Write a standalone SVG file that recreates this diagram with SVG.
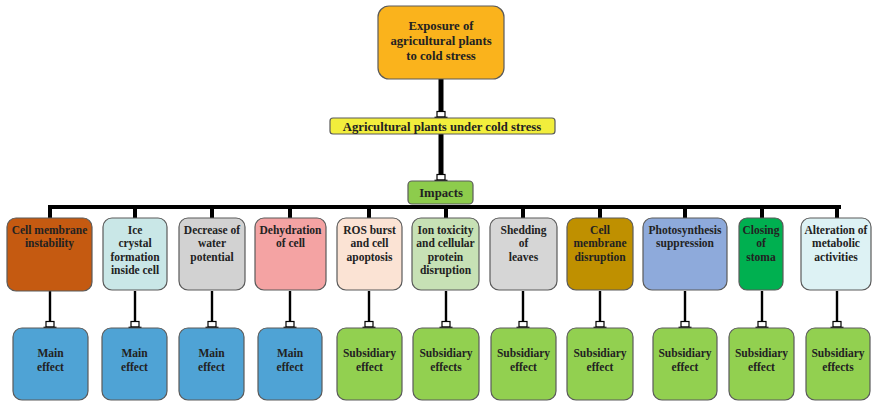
<svg xmlns="http://www.w3.org/2000/svg" width="873" height="403" viewBox="0 0 873 403">
  <style>
    .box { stroke: #5a5a5a; stroke-width: 1.2; }
    .t { font-family: "Liberation Serif", "Times New Roman", serif; font-weight: bold; font-size: 11.5px; fill: #222; text-anchor: middle; }
    .tl { font-size: 12.7px; }
    .thick { stroke: #000; stroke-width: 5; fill: none; }
    .bus { stroke: #000; stroke-width: 4; fill: none; }
    .thin { stroke: #000; stroke-width: 2.4; fill: none; }
    .main { fill: #4fa3d5; }
    .sub { fill: #92d050; }
  </style>
  <defs>
    <marker id="tee" markerUnits="userSpaceOnUse" markerWidth="16" markerHeight="10" viewBox="-8 -8 16 10" refX="0" refY="0" orient="0" overflow="visible">
      <rect x="-4" y="-6.5" width="8" height="5.5" fill="#fff" stroke="#000" stroke-width="1.2"/>
      <line x1="-6.5" y1="-0.6" x2="6.5" y2="-0.6" stroke="#000" stroke-width="1.4"/>
    </marker>
  </defs>

  <rect width="873" height="403" fill="#fff"/>

  <!-- connectors -->
  <g id="connectors">
    <line class="thick" x1="441" y1="79" x2="441" y2="118" marker-end="url(#tee)"/>
    <line class="thick" x1="441" y1="134" x2="441" y2="181" marker-end="url(#tee)"/>
    <line class="bus" x1="48" y1="207" x2="841" y2="207"/>
    <g class="bus">
      <line x1="50" y1="207" x2="50" y2="219"/>
      <line x1="135" y1="207" x2="135" y2="219"/>
      <line x1="212" y1="207" x2="212" y2="219"/>
      <line x1="290" y1="207" x2="290" y2="219"/>
      <line x1="369" y1="207" x2="369" y2="219"/>
      <line x1="446" y1="207" x2="446" y2="219"/>
      <line x1="523" y1="207" x2="523" y2="219"/>
      <line x1="600" y1="207" x2="600" y2="219"/>
      <line x1="685" y1="207" x2="685" y2="219"/>
      <line x1="762" y1="207" x2="762" y2="219"/>
      <line x1="837" y1="207" x2="837" y2="219"/>
    </g>
    <g class="thin">
      <line x1="50" y1="291" x2="50" y2="328" marker-end="url(#tee)"/>
      <line x1="135" y1="291" x2="135" y2="328" marker-end="url(#tee)"/>
      <line x1="212" y1="291" x2="212" y2="328" marker-end="url(#tee)"/>
      <line x1="290" y1="291" x2="290" y2="328" marker-end="url(#tee)"/>
      <line x1="369" y1="291" x2="369" y2="328" marker-end="url(#tee)"/>
      <line x1="446" y1="291" x2="446" y2="328" marker-end="url(#tee)"/>
      <line x1="523" y1="291" x2="523" y2="328" marker-end="url(#tee)"/>
      <line x1="600" y1="291" x2="600" y2="328" marker-end="url(#tee)"/>
      <line x1="685" y1="291" x2="685" y2="328" marker-end="url(#tee)"/>
      <line x1="762" y1="291" x2="762" y2="328" marker-end="url(#tee)"/>
      <line x1="837" y1="291" x2="837" y2="328" marker-end="url(#tee)"/>
    </g>
  </g>

  <!-- top level -->
  <g id="exposure">
    <rect class="box" x="378" y="6" width="126" height="73" rx="11" fill="#fab31c"/>
    <text class="t tl" x="441" y="30">Exposure of</text>
    <text class="t tl" x="441" y="45">agricultural plants</text>
    <text class="t tl" x="441" y="60">to cold stress</text>
  </g>
  <g id="under-stress">
    <rect class="box" x="330" y="118" width="225" height="16" rx="3" fill="#f2ee3c"/>
    <text class="t tl" x="442" y="130.5">Agricultural plants under cold stress</text>
  </g>
  <g id="impacts">
    <rect class="box" x="408" y="181" width="65" height="23" rx="4" fill="#8dcc4c"/>
    <text class="t tl" x="441" y="197">Impacts</text>
  </g>

  <!-- impact categories -->
  <g id="n1">
    <rect class="box" x="7" y="218" width="85" height="73" rx="9" fill="#c55a11"/>
    <text class="t" x="49.5" y="234">Cell membrane</text>
    <text class="t" x="49.5" y="247">instability</text>
  </g>
  <g id="n2">
    <rect class="box" x="103" y="218" width="64" height="72" rx="9" fill="#c9e7e7"/>
    <text class="t" x="135" y="234">Ice</text>
    <text class="t" x="135" y="247">crystal</text>
    <text class="t" x="135" y="260.5">formation</text>
    <text class="t" x="135" y="274">inside cell</text>
  </g>
  <g id="n3">
    <rect class="box" x="179" y="218" width="66" height="72" rx="9" fill="#d2d2d2"/>
    <text class="t" x="212" y="234">Decrease of</text>
    <text class="t" x="212" y="247">water</text>
    <text class="t" x="212" y="260.5">potential</text>
  </g>
  <g id="n4">
    <rect class="box" x="255" y="218" width="71" height="72" rx="9" fill="#f4a3a3"/>
    <text class="t" x="290.5" y="234">Dehydration</text>
    <text class="t" x="290.5" y="247">of cell</text>
  </g>
  <g id="n5">
    <rect class="box" x="337" y="218" width="65" height="72" rx="9" fill="#fbe3d4"/>
    <text class="t" x="369.5" y="234">ROS burst</text>
    <text class="t" x="369.5" y="247">and cell</text>
    <text class="t" x="369.5" y="260.5">apoptosis</text>
  </g>
  <g id="n6">
    <rect class="box" x="412" y="218" width="67" height="72" rx="9" fill="#c7e1b5"/>
    <text class="t" x="445.5" y="234">Ion toxicity</text>
    <text class="t" x="445.5" y="247">and cellular</text>
    <text class="t" x="445.5" y="260.5">protein</text>
    <text class="t" x="445.5" y="274">disruption</text>
  </g>
  <g id="n7">
    <rect class="box" x="490" y="218" width="67" height="72" rx="9" fill="#d6d6d6"/>
    <text class="t" x="523.5" y="234">Shedding</text>
    <text class="t" x="523.5" y="247">of</text>
    <text class="t" x="523.5" y="260.5">leaves</text>
  </g>
  <g id="n8">
    <rect class="box" x="567" y="218" width="66" height="72" rx="9" fill="#bf9000"/>
    <text class="t" x="600" y="234">Cell</text>
    <text class="t" x="600" y="247">membrane</text>
    <text class="t" x="600" y="260.5">disruption</text>
  </g>
  <g id="n9">
    <rect class="box" x="643" y="218" width="84" height="72" rx="9" fill="#8eaadb"/>
    <text class="t" x="685" y="234">Photosynthesis</text>
    <text class="t" x="685" y="247">suppression</text>
  </g>
  <g id="n10">
    <rect class="box" x="739" y="218" width="44" height="72" rx="8" fill="#00b050"/>
    <text class="t" x="761" y="234">Closing</text>
    <text class="t" x="761" y="247">of</text>
    <text class="t" x="761" y="260.5">stoma</text>
  </g>
  <g id="n11">
    <rect class="box" x="801" y="218" width="70" height="72" rx="9" fill="#ddf2f4"/>
    <text class="t" x="836" y="234">Alteration of</text>
    <text class="t" x="836" y="247">metabolic</text>
    <text class="t" x="836" y="260.5">activities</text>
  </g>

  <!-- effect classes -->
  <g id="e1">
    <rect class="box main" x="13" y="328" width="75" height="72" rx="9"/>
    <text class="t" x="50.5" y="357">Main</text>
    <text class="t" x="50.5" y="371">effect</text>
  </g>
  <g id="e2">
    <rect class="box main" x="102" y="328" width="65" height="72" rx="9"/>
    <text class="t" x="134.5" y="357">Main</text>
    <text class="t" x="134.5" y="371">effect</text>
  </g>
  <g id="e3">
    <rect class="box main" x="179" y="328" width="65" height="72" rx="9"/>
    <text class="t" x="211.5" y="357">Main</text>
    <text class="t" x="211.5" y="371">effect</text>
  </g>
  <g id="e4">
    <rect class="box main" x="258" y="328" width="64" height="72" rx="9"/>
    <text class="t" x="290" y="357">Main</text>
    <text class="t" x="290" y="371">effect</text>
  </g>
  <g id="e5">
    <rect class="box sub" x="337" y="328" width="65" height="72" rx="9"/>
    <text class="t" x="369.5" y="357">Subsidiary</text>
    <text class="t" x="369.5" y="371">effect</text>
  </g>
  <g id="e6">
    <rect class="box sub" x="413" y="328" width="66" height="72" rx="9"/>
    <text class="t" x="446" y="357">Subsidiary</text>
    <text class="t" x="446" y="371">effects</text>
  </g>
  <g id="e7">
    <rect class="box sub" x="491" y="328" width="65" height="72" rx="9"/>
    <text class="t" x="523.5" y="357">Subsidiary</text>
    <text class="t" x="523.5" y="371">effect</text>
  </g>
  <g id="e8">
    <rect class="box sub" x="567" y="328" width="66" height="72" rx="9"/>
    <text class="t" x="600" y="357">Subsidiary</text>
    <text class="t" x="600" y="371">effect</text>
  </g>
  <g id="e9">
    <rect class="box sub" x="653" y="328" width="64" height="72" rx="9"/>
    <text class="t" x="685" y="357">Subsidiary</text>
    <text class="t" x="685" y="371">effect</text>
  </g>
  <g id="e10">
    <rect class="box sub" x="729" y="328" width="65" height="72" rx="9"/>
    <text class="t" x="761.5" y="357">Subsidiary</text>
    <text class="t" x="761.5" y="371">effect</text>
  </g>
  <g id="e11">
    <rect class="box sub" x="806" y="328" width="64" height="72" rx="9"/>
    <text class="t" x="838" y="357">Subsidiary</text>
    <text class="t" x="838" y="371">effects</text>
  </g>
</svg>
